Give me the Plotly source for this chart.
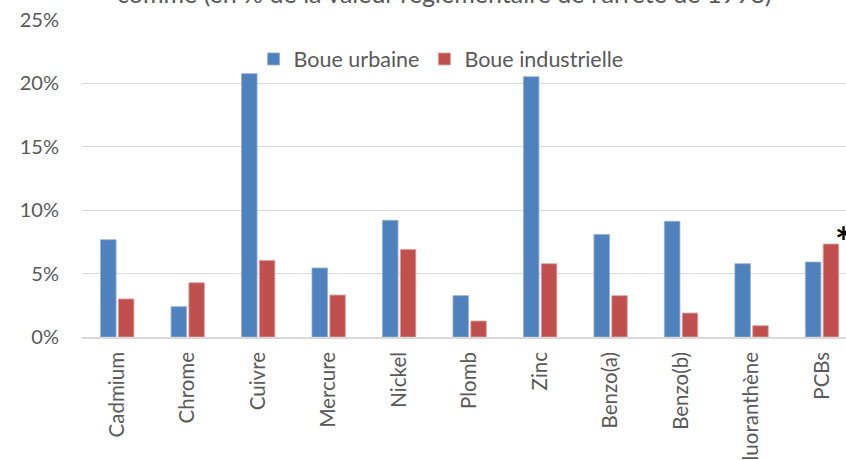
import plotly.graph_objects as go

categories = ["Cadmium", "Chrome", "Cuivre", "Mercure", "Nickel", "Plomb",
              "Zinc", "Benzo(a)", "Benzo(b)", "Fluoranthène", "PCBs"]
boue_urbaine = [7.67, 2.39, 20.77, 5.44, 9.2, 3.26, 20.53, 8.09, 9.12, 5.78, 5.91]
boue_industrielle = [3.0, 4.28, 6.04, 3.31, 6.91, 1.26, 5.78, 3.26, 1.89, 0.89, 7.33]
y_ticks = [0, 5, 10, 15, 20, 25]
y_tick_labels = ["0%", "5%", "10%", "15%", "20%", "25%"]
title_text = "comme (en % de la valeur réglementaire de l'arrêté de 1998)"

FONT = "Lato"
GREY = "#595959"

fig = go.Figure()
fig.add_trace(go.Bar(
    x=list(range(len(categories))), y=boue_urbaine, name="Boue urbaine",
    marker=dict(color="#4f81bd", line=dict(color="#8fb0d9", width=0.8)),
))
fig.add_trace(go.Bar(
    x=list(range(len(categories))), y=boue_industrielle, name="Boue industrielle",
    marker=dict(color="#c0504d", line=dict(color="#e3a09e", width=0.8)),
))

fig.update_layout(
    width=846, height=460,
    margin=dict(l=82, r=0, t=20, b=123, autoexpand=False),
    paper_bgcolor="white", plot_bgcolor="white",
    barmode="group", bargap=0.494, bargroupgap=0.13,
    font=dict(family=FONT, color=GREY, size=20),
    showlegend=True,
    legend=dict(orientation="h", x=0.47, y=0.877, xanchor="center", yanchor="middle",
                font=dict(family=FONT, size=21.5, color=GREY),
                bgcolor="rgba(0,0,0,0)", itemwidth=30, tracegroupgap=0),
    xaxis=dict(
        range=[-0.5, 10.34], tickmode="array",
        tickvals=list(range(len(categories))), ticktext=categories,
        tickangle=-90, showgrid=False, zeroline=False,
        showline=True, linecolor="#d9d9d9", linewidth=1.5,
        ticks="", tickfont=dict(family=FONT, size=20.5, color=GREY),
        ticklabelstandoff=5, automargin=False,
    ),
    yaxis=dict(
        range=[0, 25], tickmode="array", tickvals=y_ticks, ticktext=y_tick_labels,
        showgrid=True, gridcolor="#d9d9d9", gridwidth=1.3,
        zeroline=False, showline=False, ticks="",
        tickfont=dict(family=FONT, size=20, color=GREY),
        ticklabelstandoff=22, automargin=False,
    ),
    annotations=[
        dict(text=title_text, xref="paper", yref="paper", x=0.475, y=1.086,
             xanchor="center", yanchor="middle", showarrow=False,
             font=dict(family=FONT, size=25, color=GREY)),
        dict(text="<b>*</b>", xref="x", yref="y", x=10, y=7.33, xshift=21, yshift=-24,
             xanchor="center", yanchor="bottom", showarrow=False,
             font=dict(family=FONT, size=40, color="black")),
    ],
)

fig.write_html(
    "out.html",
    config={"displayModeBar": False},
    post_script="document.body.style.margin='0';document.body.style.overflow='hidden';",
)
